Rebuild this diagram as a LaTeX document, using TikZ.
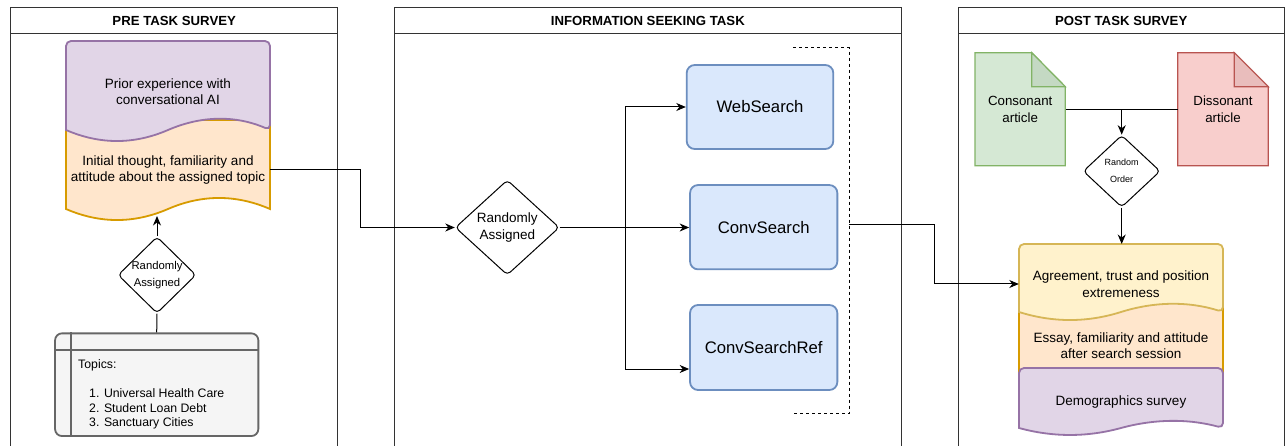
\documentclass[tikz,border=0pt]{standalone}
\usepackage{fontspec}
\setmainfont{Liberation Sans}
\usepackage{tikz}
\usetikzlibrary{shapes.geometric, arrows.meta, calc}

\definecolor{poolline}{HTML}{333333}
\definecolor{purplefill}{HTML}{E1D5E7}
\definecolor{purpleline}{HTML}{9673A6}
\definecolor{orangefill}{HTML}{FFE6CC}
\definecolor{orangeline}{HTML}{D79B00}
\definecolor{yellowfill}{HTML}{FFF2CC}
\definecolor{yellowline}{HTML}{D6B656}
\definecolor{taskfill}{HTML}{DAE8FC}
\definecolor{taskline}{HTML}{6C8EBF}
\definecolor{consfill}{HTML}{D5E8D4}
\definecolor{consfold}{HTML}{C4D9C3}
\definecolor{consline}{HTML}{82B366}
\definecolor{dissfill}{HTML}{F8CECC}
\definecolor{dissfold}{HTML}{E9BDBC}
\definecolor{dissline}{HTML}{B85450}
\definecolor{tablefill}{HTML}{F5F5F5}
\definecolor{tableline}{HTML}{666666}

\begin{document}
\begin{tikzpicture}[x = 1pt, y = -1pt,
	pool/.style = {draw = poolline, line width = 1pt},
	head/.style = {font = \fontsize{13.2}{16}\selectfont\bfseries},
	txt/.style = {align = center, inner sep = 0, font = \fontsize{13.5}{16.7}\selectfont},
	choice/.style = {diamond, draw, line width = 1pt, rounded corners = 4, inner sep = -2pt, align = center},
	task/.style = {draw = taskline, fill = taskfill, line width = 1.8pt, rounded corners = 8, font = \fontsize{16.7}{20}\selectfont},
	arrow/.style = {-{Stealth[length = 9.5pt, width = 8pt, inset = 3pt]}, line width = 1pt},
	link/.style = {line width = 1pt}]
\useasboundingbox (0, 0) rectangle (1285, 446);
\clip (0, 0) rectangle (1285, 446);
\fill[white] (0, 0) rectangle (1285, 446);

% swimlanes
\foreach \xa/\xb/\poolname [count = \i] in {10.7/337.7/PRE TASK SURVEY, 394/901.7/INFORMATION SEEKING TASK, 958/1284.3/POST TASK SURVEY} {
	\draw[pool] (\xa, 7.7) rectangle (\xb, 460);
	\draw[pool] (\xa, 33.3) -- (\xb, 33.3);
	\node[head] (pool\i) at ({(\xa + \xb)/2}, 20.5) {\poolname};
}

% pre task survey
\draw[orangeline, fill = orangefill, line width = 1.8pt] (66, 209) -- (66, 120) -- (270, 120) -- (270, 209) .. controls (236, 194.3) and (202, 194.3) .. (168, 209) .. controls (134, 223.7) and (100, 223.7) .. (66, 209) -- cycle;
\draw[purpleline, fill = purplefill, line width = 1.8pt] (66, 130) [rounded corners = 5] -- (66, 41) -- (270, 41) -- (270, 130) [sharp corners] .. controls (236, 115.3) and (202, 115.3) .. (168, 130) .. controls (134, 144.7) and (100, 144.7) .. (66, 130) -- cycle;
\node[txt] (prior) at (168, 91.7) {Prior experience with\\conversational AI};
\node[txt, minimum width = 204] (initial) at (168, 170) {Initial thought, familiarity and\\attitude about the assigned topic};
\coordinate (initialbot) at (157, 216);

\node[choice, minimum width = 78, minimum height = 76.5, font = \fontsize{11.3}{17.3}\selectfont] (topicpick) at (157, 275) {Randomly\\Assigned};

\node[draw = tableline, fill = tablefill, line width = 1.8pt, rounded corners = 7, minimum width = 203.3, minimum height = 102.7] (topics) at (156.7, 384.7) {};
\draw[tableline, line width = 1.8pt] ($(topics.north west) + (16.7, 0)$) -- ($(topics.south west) + (16.7, 0)$);
\draw[tableline, line width = 1.8pt] ($(topics.north west) + (0, 17.7)$) -- ($(topics.north east) + (0, 17.7)$);
\node[anchor = north west, align = left, inner sep = 0, font = \fontsize{12.3}{14.5}\selectfont] (topiclist) at (78, 359.5) {Topics:\\[14.5pt]
	\hspace*{11pt}1. Universal Health Care\\
	\hspace*{11pt}2. Student Loan Debt\\
	\hspace*{11pt}3. Sanctuary Cities};

\draw[link] (topics.north) -- (topicpick.south);
\draw[arrow] (topicpick.north) -- (initialbot);

% information seeking task
\node[choice, minimum width = 104, minimum height = 95, font = \fontsize{13.5}{17.3}\selectfont] (seekpick) at (507.3, 227.5) {Randomly\\Assigned};
\node[task, minimum width = 146.6, minimum height = 84] (web) at (760, 107) {WebSearch};
\node[task, minimum width = 147.3, minimum height = 84.3] (conv) at (763.7, 227.2) {ConvSearch};
\node[task, minimum width = 147.3, minimum height = 85] (convref) at (763.7, 347.5) {ConvSearchRef};
\draw[dash pattern = on 3pt off 3pt, line width = 1pt] (793.3, 47.3) -- (849, 47.3) -- (849, 413.3) -- (793.3, 413.3);
\coordinate (bracket) at (849, 224.3);

\draw[arrow] (initial.east) -- ++(90, 0) |- (seekpick.west);
\draw[arrow] (seekpick.east) -- ++(65.3, 0) |- (web.west);
\draw[arrow] (seekpick.east) -- (seekpick.east -| conv.west);
\draw[arrow] (seekpick.east) -- ++(65.3, 0) |- ($(convref.west) + (0, 21.5)$);

% post task survey
\draw[consline, fill = consfill, line width = 1.2pt] (975, 52.7) -- (1031.7, 52.7) -- (1065.3, 86.7) -- (1065.3, 165.7) -- (975, 165.7) -- cycle;
\draw[consline, fill = consfold, line width = 1.2pt] (1031.7, 52.7) -- (1031.7, 86.7) -- (1065.3, 86.7) -- cycle;
\node[inner sep = 0, minimum width = 90.3, minimum height = 113, align = center, font = \fontsize{13.3}{17.3}\selectfont] (cons) at (1020.2, 109.2) {Consonant\\article};
\draw[dissline, fill = dissfill, line width = 1.2pt] (1177.7, 52.7) -- (1234.3, 52.7) -- (1268.3, 86.7) -- (1268.3, 165.7) -- (1177.7, 165.7) -- cycle;
\draw[dissline, fill = dissfold, line width = 1.2pt] (1234.3, 52.7) -- (1234.3, 86.7) -- (1268.3, 86.7) -- cycle;
\node[inner sep = 0, minimum width = 90.6, minimum height = 113, align = center, font = \fontsize{13.3}{17.3}\selectfont] (diss) at (1223, 109.2) {Dissonant\\article};

\node[choice, minimum width = 77, minimum height = 72, font = \fontsize{9}{17}\selectfont] (order) at (1121.7, 171.2) {Random\\Order};

\draw[orangeline, fill = orangefill, line width = 1.8pt] (1019, 300) rectangle (1223, 385);
\draw[yellowline, fill = yellowfill, line width = 1.8pt] (1019, 312) [rounded corners = 5] -- (1019, 244) -- (1223, 244) -- (1223, 312) [sharp corners] .. controls (1189, 301.3) and (1155, 301.3) .. (1121, 312) .. controls (1087, 322.7) and (1053, 322.7) .. (1019, 312) -- cycle;
\draw[purpleline, fill = purplefill, line width = 1.8pt] (1019, 428) [rounded corners = 5] -- (1019, 368) -- (1223, 368) -- (1223, 428) [sharp corners] .. controls (1189, 418.7) and (1155, 418.7) .. (1121, 428) .. controls (1087, 437.3) and (1053, 437.3) .. (1019, 428) -- cycle;
\node[txt, minimum width = 204] (agree) at (1121, 284) {Agreement, trust and position\\extremeness};
\node[txt] (essay) at (1121, 345.8) {Essay, familiarity and attitude\\after search session};
\node[txt] (demo) at (1121, 402.3) {Demographics survey};
\coordinate (agreetop) at (1121.7, 244);

\draw[link] (cons.east) -- (diss.west);
\draw[arrow] (order.north |- cons.east) -- (order.north);
\draw[arrow] (order.south) -- (agreetop);
\draw[arrow] (bracket) -- ++(85.3, 0) |- (agree.west);
\end{tikzpicture}
\end{document}
